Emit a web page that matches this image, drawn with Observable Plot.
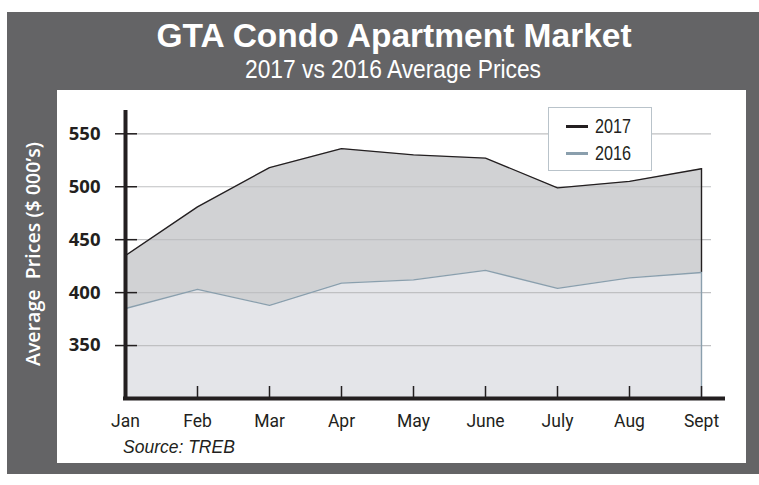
<!DOCTYPE html>
<html>
<head>
<meta charset="utf-8">
<script src="https://cdn.jsdelivr.net/npm/d3@7"></script>
<script src="https://cdn.jsdelivr.net/npm/@observablehq/plot@0.6"></script>
<style>
  body { margin: 0; background: #ffffff; }
  #root { position: relative; width: 759px; height: 485px; overflow: hidden; }
  #box { position: absolute; left: 7px; top: 12px; width: 752px; height: 462px; background: #646466; }
  #panel { position: absolute; left: 57px; top: 90px; width: 689px; height: 373px; background: #ffffff; }
  #panel svg { position: absolute; left: 0; top: 0; }
  #title { position: absolute; left: 0; width: 788px; top: 18.5px; text-align: center; color: #fff;
    font-family: "Liberation Sans", sans-serif; font-weight: bold; font-size: 33.5px; line-height: 1; white-space: nowrap; }
  #subtitle { position: absolute; left: 0; width: 786px; top: 56px; text-align: center; color: #fff;
    font-family: "Liberation Sans", sans-serif; font-size: 26.5px; line-height: 1; white-space: nowrap;
    transform: scaleX(0.86); transform-origin: 393px 0; }
  #ylabel { position: absolute; left: 33px; top: 254px; transform: translate(-50%, -50%) rotate(-90deg);
    color: #fff; font-family: "Open Sans", sans-serif; font-weight: 600; font-size: 19.6px; line-height: 1; white-space: pre; }
  #source { position: absolute; left: 123px; top: 438.5px; color: #231f20;
    font-family: "Liberation Sans", sans-serif; font-style: italic; font-size: 17.5px; line-height: 1; white-space: nowrap; }
  #legend { position: absolute; left: 548px; top: 107px; width: 104px; height: 64px; box-sizing: border-box;
    border: 1px solid #b9c3ca; background: #ffffff; }
  .sw { position: absolute; left: 17px; width: 22px; height: 3px; }
  .lt { position: absolute; left: 46px; font-family: "Liberation Sans", sans-serif;
    font-size: 19.5px; line-height: 1; color: #231f20; transform: scaleX(0.83); transform-origin: 0 0; }
</style>
</head>
<body>
<div id="root">
  <div id="box"></div>
  <div id="title">GTA Condo Apartment Market</div>
  <div id="subtitle">2017 vs 2016 Average Prices</div>
  <div id="ylabel">Average  Prices ($ 000’s)</div>
  <div id="panel"></div>
  <div id="source">Source: TREB</div>
  <div id="legend"></div>
</div>
<script>
// ---- data ----
const months = ["Jan", "Feb", "Mar", "Apr", "May", "June", "July", "Aug", "Sept"];
const prices2017 = [435, 481, 518, 536, 530, 527, 499, 505, 517];
const prices2016 = [385, 403, 388, 409, 412, 421, 404, 414, 419];
const yTicks = [350, 400, 450, 500, 550];
const seriesNames = ["2017", "2016"];

// ---- styles ----
const C2017 = "#231f20", C2016 = "#8a9fad";
const FILL2017 = "#d1d2d4", FILL2016 = "#e4e5e9";
const GRID = "#bfc0c2";
const yBase = 300, yTop = 572;

const d2017 = months.map((m, i) => ({month: m, value: prices2017[i]}));
const d2016 = months.map((m, i) => ({month: m, value: prices2016[i]}));
const first = () => months[0];
const last = () => months[months.length - 1];

const chart = Plot.plot({
  width: 689,
  height: 373,
  marginLeft: 65,
  marginRight: 42,
  marginTop: 20,
  marginBottom: 65,
  style: {background: "transparent", overflow: "visible"},
  x: {type: "point", domain: months, padding: 0, axis: null},
  y: {domain: [yBase, yTop], axis: null},
  marks: [
    Plot.areaY(d2017, {x: "month", y1: yBase, y2: "value", fill: FILL2017}),
    Plot.areaY(d2016, {x: "month", y1: yBase, y2: "value", fill: FILL2016}),
    // gridlines
    Plot.ruleY(yTicks, {x1: first, x2: last, insetRight: -10, stroke: GRID, strokeWidth: 1.2}),
    // right edges of the areas
    Plot.ruleX([months[8]], {y1: prices2016[8], y2: prices2017[8], stroke: C2017, strokeWidth: 1.4}),
    Plot.ruleX([months[8]], {y1: yBase, y2: prices2016[8], stroke: C2016, strokeWidth: 1.4}),
    // lines
    Plot.line(d2016, {x: "month", y: "value", stroke: C2016, strokeWidth: 1.3}),
    Plot.line(d2017, {x: "month", y: "value", stroke: C2017, strokeWidth: 1.3}),
    // x tick marks (inward)
    Plot.ruleX(months.slice(1), {y1: yBase, y2: yBase, insetTop: -12, stroke: C2017, strokeWidth: 1.5}),
    // y tick marks (crossing the axis)
    Plot.ruleY(yTicks, {x1: first, x2: first, insetLeft: -10, insetRight: -12, stroke: C2017, strokeWidth: 1.5}),
    // axis lines
    Plot.ruleX([months[0]], {stroke: C2017, strokeWidth: 4}),
    Plot.ruleY([yBase], {x1: first, x2: last, insetLeft: -2, insetRight: -24, stroke: C2017, strokeWidth: 4}),
    // tick labels
    Plot.text(yTicks, {y: d => d, text: d => String(d), frameAnchor: "left", dx: -22, textAnchor: "end",
      lineAnchor: "middle", fill: C2017, fontFamily: "Open Sans", fontWeight: "bold", fontSize: 18.5}),
    Plot.text(months, {x: d => d, text: d => d, frameAnchor: "bottom", lineAnchor: "middle", dy: 23,
      fill: C2017, fontFamily: "Roboto, sans-serif", fontSize: 17.5})
  ]
});
document.getElementById("panel").appendChild(chart);

// legend
const legend = document.getElementById("legend");
[[seriesNames[0], C2017, 18], [seriesNames[1], C2016, 45]].forEach(([name, color, y]) => {
  const sw = document.createElement("div");
  sw.className = "sw";
  sw.style.top = (y - 1.5) + "px";
  sw.style.background = color;
  legend.appendChild(sw);
  const t = document.createElement("div");
  t.className = "lt";
  t.textContent = name;
  t.style.top = (y - 9.5) + "px";
  legend.appendChild(t);
});
</script>
</body>
</html>
